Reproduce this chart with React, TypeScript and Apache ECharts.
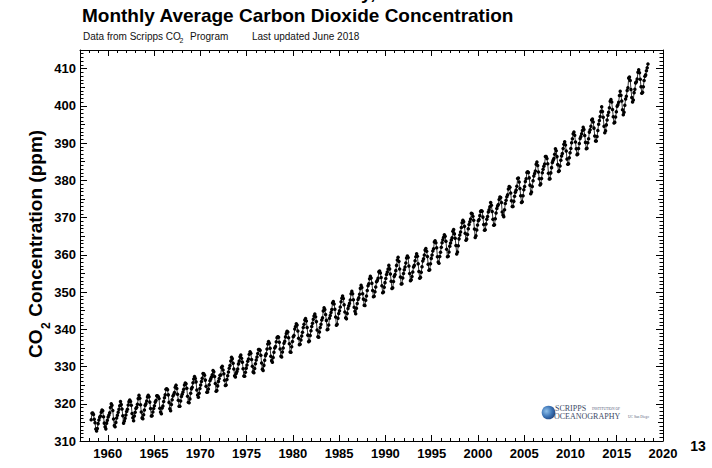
import React, { useEffect, useRef } from "react";
import * as echarts from "echarts";

// Monthly mean CO2 at Mauna Loa (ppm), consecutive months starting March 1958.
const FIRST_YEAR = 1958;
const FIRST_MONTH = 3;

const co2_1958_1959 = [
  315.71, 317.45, 317.5, 317.1, 315.86, 314.93, 313.2, 312.66, 313.33, 314.67,
  315.62, 316.38, 316.71, 317.72, 318.29, 318.15, 316.54, 314.8, 313.84, 313.26, 314.8, 315.58,
];

const co2_1960s = [
  316.43, 316.97, 317.58, 319.02, 320.03, 319.59, 318.18, 315.91, 314.16, 313.83, 315.0, 316.19,
  316.93, 317.7, 318.54, 319.48, 320.58, 319.77, 318.57, 316.79, 314.8, 315.38, 316.1, 317.01,
  317.94, 318.55, 319.68, 320.57, 321.02, 320.62, 319.61, 317.4, 316.25, 315.42, 316.69, 317.7,
  318.74, 319.07, 319.86, 321.38, 322.25, 321.48, 319.74, 317.77, 316.21, 315.99, 317.07, 318.35,
  319.57, 320.01, 320.74, 321.84, 322.26, 321.89, 320.44, 318.7, 316.7, 316.79, 317.79, 318.71,
  319.44, 320.44, 320.89, 322.13, 322.16, 321.87, 321.39, 318.81, 317.81, 317.3, 318.87, 319.42,
  320.62, 321.59, 322.39, 323.87, 324.01, 323.75, 322.39, 320.37, 318.64, 318.1, 319.79, 321.08,
  322.07, 322.5, 323.04, 324.42, 325.0, 324.09, 322.55, 320.92, 319.31, 319.31, 320.72, 321.96,
  322.57, 323.15, 323.89, 325.02, 325.57, 325.36, 324.14, 322.03, 320.41, 320.25, 321.31, 322.84,
  324.0, 324.42, 325.64, 326.66, 327.34, 326.76, 325.88, 323.67, 322.38, 321.78, 322.85, 324.11,
];

const co2_1970s = [
  325.03, 325.99, 326.87, 328.13, 328.07, 327.66, 326.35, 324.69, 323.1, 323.16, 323.98, 325.13,
  326.17, 326.68, 327.18, 327.78, 328.92, 328.57, 327.34, 325.46, 323.36, 323.57, 324.8, 326.01,
  326.77, 327.63, 327.75, 329.72, 330.07, 329.09, 328.05, 326.32, 324.93, 325.06, 326.5, 327.55,
  328.54, 329.56, 330.3, 331.5, 332.48, 332.07, 330.87, 329.31, 327.51, 327.18, 328.16, 328.64,
  329.35, 330.71, 331.48, 332.65, 333.09, 332.25, 331.18, 329.4, 327.43, 327.37, 328.46, 329.57,
  330.4, 331.4, 332.04, 333.31, 333.96, 333.59, 331.91, 330.06, 328.56, 328.34, 329.49, 330.76,
  331.75, 332.56, 333.5, 334.58, 334.57, 334.34, 333.05, 330.94, 329.3, 328.94, 330.31, 331.68,
  332.93, 333.42, 334.7, 336.07, 336.74, 336.27, 334.93, 332.75, 331.58, 331.16, 332.4, 333.85,
  334.97, 335.39, 336.64, 337.76, 338.01, 337.89, 336.54, 334.68, 332.76, 332.54, 333.92, 334.95,
  336.23, 336.76, 337.96, 338.88, 339.47, 339.29, 337.73, 336.09, 333.91, 333.86, 335.29, 336.73,
];

const co2_1980s = [
  338.01, 338.36, 340.08, 340.77, 341.46, 341.17, 339.56, 337.6, 335.88, 336.01, 337.1, 338.21,
  339.23, 340.47, 341.38, 342.51, 342.91, 342.25, 340.49, 338.43, 336.69, 336.85, 338.36, 339.61,
  340.75, 341.61, 342.7, 343.56, 344.13, 343.35, 342.06, 339.82, 337.97, 337.86, 339.26, 340.49,
  341.38, 342.52, 343.1, 344.94, 345.75, 345.32, 343.99, 342.39, 339.86, 339.99, 341.16, 342.99,
  343.7, 344.51, 345.28, 347.08, 347.43, 346.79, 345.4, 343.28, 341.07, 341.35, 342.98, 344.22,
  344.97, 345.99, 347.42, 348.35, 348.93, 348.25, 346.56, 344.67, 343.09, 342.8, 344.24, 345.56,
  346.29, 346.96, 347.86, 349.55, 350.21, 349.54, 347.94, 345.91, 344.86, 344.17, 345.66, 346.9,
  348.02, 348.47, 349.42, 350.99, 351.84, 351.25, 349.52, 348.1, 346.44, 346.36, 347.81, 348.96,
  350.43, 351.72, 352.22, 353.59, 354.22, 353.79, 352.39, 350.44, 348.72, 348.88, 350.07, 351.34,
  352.76, 353.07, 353.68, 355.42, 355.67, 355.12, 353.9, 351.67, 349.8, 349.99, 351.3, 352.53,
];

const co2_1990s = [
  353.66, 354.7, 355.39, 356.2, 357.16, 356.22, 354.82, 352.91, 350.96, 351.18, 352.83, 354.21,
  354.72, 355.75, 357.16, 358.6, 359.34, 358.24, 356.17, 354.03, 352.16, 352.21, 353.75, 354.99,
  355.98, 356.72, 357.81, 359.15, 359.66, 359.25, 357.02, 355.0, 353.01, 353.31, 354.16, 355.4,
  356.7, 357.16, 358.38, 359.46, 360.28, 359.6, 357.57, 355.52, 353.7, 353.98, 355.33, 356.8,
  358.36, 358.91, 359.97, 361.26, 361.68, 360.95, 359.55, 357.49, 355.84, 355.99, 357.58, 359.04,
  359.97, 361.0, 361.64, 363.45, 363.79, 363.26, 361.9, 359.46, 358.06, 357.75, 359.56, 360.7,
  362.05, 363.25, 364.03, 364.72, 365.41, 364.97, 363.65, 361.49, 359.46, 359.6, 360.76, 362.33,
  363.18, 364.0, 364.57, 366.35, 366.79, 365.62, 364.47, 362.51, 360.19, 360.77, 362.43, 364.28,
  365.32, 366.15, 367.31, 368.61, 369.29, 368.87, 367.64, 365.77, 363.9, 364.23, 365.46, 366.97,
  368.15, 368.87, 369.59, 371.14, 371.0, 370.35, 369.27, 366.94, 364.63, 365.12, 366.67, 368.01,
];

const co2_2000s = [
  369.14, 369.46, 370.52, 371.66, 371.82, 371.7, 370.12, 368.12, 366.62, 366.73, 368.29, 369.53,
  370.28, 371.5, 372.12, 372.87, 374.02, 373.3, 371.62, 369.55, 367.96, 368.09, 369.68, 371.24,
  372.44, 373.08, 373.52, 374.85, 375.55, 375.4, 374.02, 371.48, 370.71, 370.25, 372.08, 373.78,
  374.68, 375.62, 376.11, 377.65, 378.35, 378.13, 376.62, 374.5, 372.99, 373.0, 374.35, 375.7,
  376.79, 377.37, 378.41, 380.52, 380.63, 379.57, 377.79, 375.86, 374.06, 374.24, 375.86, 377.48,
  378.37, 379.69, 380.41, 382.1, 382.28, 382.13, 380.66, 378.71, 376.42, 376.88, 378.32, 379.91,
  381.18, 381.83, 382.53, 384.33, 384.89, 383.99, 382.23, 380.44, 378.77, 379.05, 380.49, 382.01,
  382.98, 383.81, 384.38, 386.42, 386.4, 385.86, 384.46, 381.88, 380.34, 380.44, 382.0, 383.41,
  384.79, 385.36, 385.86, 386.98, 388.51, 387.93, 386.37, 384.22, 382.36, 382.56, 383.86, 385.4,
  386.55, 387.2, 388.54, 389.7, 390.35, 389.5, 387.9, 385.7, 384.32, 384.46, 386.06, 387.41,
];

const co2_2010s = [
  388.55, 390.1, 391.19, 392.52, 392.95, 392.12, 390.28, 388.5, 386.9, 387.09, 388.55, 389.87,
  391.21, 391.76, 392.53, 393.38, 394.28, 393.66, 392.05, 390.19, 388.51, 388.64, 390.12, 391.17,
  392.95, 393.59, 394.52, 396.23, 396.49, 395.69, 394.02, 391.93, 390.54, 390.59, 391.79, 393.4,
  395.08, 396.07, 397.11, 398.45, 399.76, 398.51, 396.95, 394.54, 392.78, 393.31, 394.89, 396.21,
  397.5, 398.26, 399.52, 401.22, 401.71, 401.04, 399.02, 397.1, 395.42, 395.62, 397.02, 398.39,
  399.89, 400.32, 400.98, 402.8, 403.94, 402.86, 401.31, 398.94, 397.63, 398.29, 400.16, 401.85,
  402.56, 404.12, 404.87, 407.45, 407.72, 406.83, 404.41, 402.27, 401.05, 401.59, 403.55, 404.45,
  406.17, 406.46, 407.22, 409.04, 409.69, 408.88, 407.12, 405.13, 403.37, 403.63, 405.12, 406.81,
  407.96, 408.32, 409.41, 410.24, 411.24,
];

// Axis extents and labelled ticks
const YEAR_MIN = 1957;
const YEAR_MAX = 2020;
const PPM_MIN = 310;
const PPM_MAX = 415;
const yearLabels = [1960, 1965, 1970, 1975, 1980, 1985, 1990, 1995, 2000, 2005, 2010, 2015, 2020];
const ppmLabels = [310, 320, 330, 340, 350, 360, 370, 380, 390, 400, 410];

const FONT = "'Liberation Sans', Arial, Helvetica, sans-serif";
const SERIF = "'Liberation Serif', 'Times New Roman', serif";

export default function App() {
  const ref = useRef<HTMLDivElement>(null);

  useEffect(() => {
    if (!ref.current) return;
    const chart = echarts.init(ref.current, null, { renderer: "svg" });

    const monthly = [
      ...co2_1958_1959,
      ...co2_1960s,
      ...co2_1970s,
      ...co2_1980s,
      ...co2_1990s,
      ...co2_2000s,
      ...co2_2010s,
    ];
    // decimal year at the middle of each month
    const points = monthly.map((ppm, i) => [
      FIRST_YEAR + (FIRST_MONTH - 1 + i + 0.5) / 12,
      ppm,
    ]);

    const line = { show: true, onZero: false, lineStyle: { color: "#000", width: 1 } };
    const noLine = { show: false, onZero: false };
    const labelStyle = {
      color: "#000",
      fontFamily: FONT,
      fontWeight: "bold" as const,
      fontSize: 13,
      formatter: (v: number) => String(Math.round(v)),
    };

    const xAxisBase = {
      type: "value" as const,
      min: YEAR_MIN,
      max: YEAR_MAX,
      splitLine: { show: false },
    };
    const yAxisBase = {
      type: "value" as const,
      min: PPM_MIN,
      max: PPM_MAX,
      splitLine: { show: false },
    };

    const majorX = (position: "bottom" | "top", labels: boolean) => ({
      ...xAxisBase,
      position,
      axisLine: line,
      axisTick: {
        show: true,
        inside: true,
        length: 6,
        customValues: yearLabels,
        lineStyle: { color: "#000", width: 1 },
      },
      axisLabel: labels
        ? { show: true, margin: 6, customValues: yearLabels, ...labelStyle }
        : { show: false },
    });
    const minorX = (position: "bottom" | "top") => ({
      ...xAxisBase,
      position,
      interval: 1,
      axisLine: noLine,
      axisTick: { show: true, inside: true, length: 3, lineStyle: { color: "#000", width: 1 } },
      axisLabel: { show: false },
    });

    const majorY = (position: "left" | "right", labels: boolean) => ({
      ...yAxisBase,
      position,
      axisLine: line,
      axisTick: {
        show: true,
        inside: true,
        length: 7,
        customValues: ppmLabels,
        lineStyle: { color: "#000", width: 1 },
      },
      axisLabel: labels
        ? { show: true, margin: 4, customValues: ppmLabels, ...labelStyle }
        : { show: false },
    });
    const stepY = (position: "left" | "right", step: number, len: number) => ({
      ...yAxisBase,
      position,
      interval: step,
      axisLine: noLine,
      axisTick: { show: true, inside: true, length: len, lineStyle: { color: "#000", width: 1 } },
      axisLabel: { show: false },
    });

    const txt = (
      x: number,
      y: number,
      text: string,
      font: string,
      fill: string,
      align: "left" | "center" = "left",
      rotation = 0
    ) => ({
      type: "text",
      x,
      y,
      rotation,
      style: {
        text,
        font,
        fill,
        align,
        verticalAlign: "middle",
        textAlign: align,
        textVerticalAlign: "middle",
      },
    });

    const option = {
      animation: false,
      backgroundColor: "#ffffff",
      grid: { left: 80, right: 49, top: 50, bottom: 27, containLabel: false },
      xAxis: [majorX("bottom", true), minorX("bottom"), majorX("top", false), minorX("top")],
      yAxis: [
        majorY("left", true),
        stepY("left", 1, 3.5),
        stepY("left", 5, 5),
        majorY("right", false),
        stepY("right", 1, 3.5),
        stepY("right", 5, 5),
      ],
      series: [
        {
          type: "line",
          xAxisIndex: 0,
          yAxisIndex: 0,
          data: points,
          symbol: "circle",
          symbolSize: 3.5,
          showSymbol: true,
          showAllSymbol: true,
          silent: true,
          itemStyle: { color: "#000" },
          lineStyle: { color: "#000", width: 0.8 },
          emphasis: { disabled: true },
        },
      ],
      graphic: [
        // descenders of the line above the title, cut off by the top edge
        txt(298, -8, "Mauna Loa Observatory, Hawaii", `bold 19px ${FONT}`, "#000", "center"),
        txt(82, 15.5, "Monthly Average Carbon Dioxide Concentration", `bold 19px ${FONT}`, "#000"),
        txt(83, 36, "Data from Scripps CO", `10px ${FONT}`, "#111"),
        txt(179.5, 40.5, "2", `7px ${FONT}`, "#111"),
        txt(190, 36, "Program", `10px ${FONT}`, "#111"),
        txt(252, 36, "Last updated June 2018", `10px ${FONT}`, "#111"),
        // rotated y-axis title: CO₂ Concentration (ppm)
        txt(35, 358, "CO", `bold 19px ${FONT}`, "#000", "left", Math.PI / 2),
        txt(46, 329, "2", `bold 12px ${FONT}`, "#000", "left", Math.PI / 2),
        txt(35, 322, " Concentration (ppm)", `bold 19px ${FONT}`, "#000", "left", Math.PI / 2),
        // Scripps Institution of Oceanography logo
        {
          type: "circle",
          shape: { cx: 548.5, cy: 412.5, r: 6.8 },
          style: {
            fill: new echarts.graphic.RadialGradient(0.35, 0.4, 0.75, [
              { offset: 0, color: "#8fc0ea" },
              { offset: 0.55, color: "#3b73b5" },
              { offset: 1, color: "#1c3c74" },
            ]),
          },
        },
        txt(555, 408.5, "SCRIPPS", `8px ${SERIF}`, "#3d4a66"),
        txt(592, 409, "INSTITUTION OF", `3.6px ${SERIF}`, "#55607a"),
        txt(554, 416, "OCEANOGRAPHY", `8px ${SERIF}`, "#3d4a66"),
        txt(628, 416.5, "UC San Diego", `3.6px ${SERIF}`, "#55607a"),
        // page number
        txt(698, 446, "13", `bold 14px ${FONT}`, "#000", "center"),
      ],
    };

    chart.setOption(option as any);
    return () => chart.dispose();
  }, []);

  return (
    <div
      ref={ref}
      style={{ position: "fixed", left: 0, top: 0, width: 712, height: 468, background: "#fff" }}
    />
  );
}
